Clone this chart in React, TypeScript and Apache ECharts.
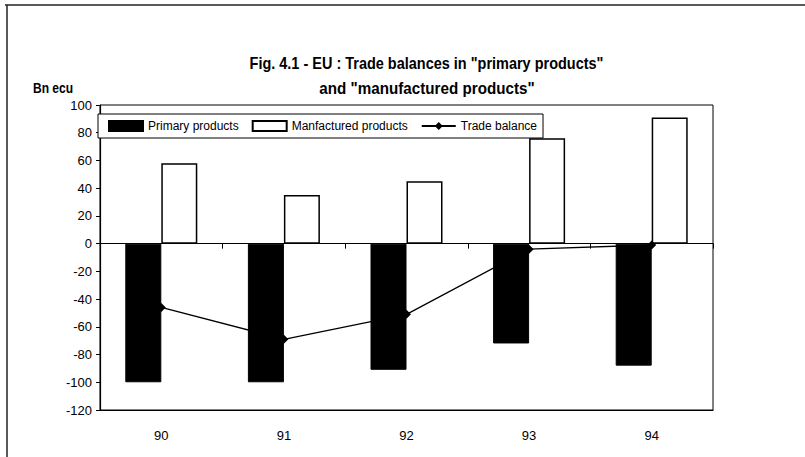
import React, { useEffect, useRef } from "react";
import * as echarts from "echarts";

const years = ["90", "91", "92", "93", "94"];
const primaryProducts = [-100, -100, -91, -72, -88];
const manufacturedProducts = [58, 35, 45, 76, 91];
const tradeBalance = [-46, -69, -51, -4, -1];

const titleLine1 = 'Fig. 4.1 - EU : Trade balances in "primary products"';
const titleLine2 = 'and "manufactured products"';
const unitLabel = "Bn ecu";

const FONT = "'Liberation Sans', Arial, sans-serif";

export default function App() {
  const ref = useRef<HTMLDivElement>(null);
  useEffect(() => {
    document.body.style.margin = "0";
    const chart = echarts.init(ref.current!, null, { renderer: "svg" });
    const titleStyle = (text: string, size: number) => ({
      text,
      fontFamily: FONT,
      fontSize: size,
      fontWeight: "bold",
      fill: "#000",
      align: "center",
      verticalAlign: "middle",
      textAlign: "center",
      textVerticalAlign: "middle",
    });
    chart.setOption({
      animation: false,
      backgroundColor: "#fff",
      textStyle: { fontFamily: FONT, color: "#000" },
      graphic: [
        { type: "line", shape: { x1: 5, y1: 5, x2: 805, y2: 5 }, style: { stroke: "#222", lineWidth: 1.5 } },
        { type: "line", shape: { x1: 7, y1: 5, x2: 7, y2: 457 }, style: { stroke: "#222", lineWidth: 1.5 } },
        { type: "text", x: 426.5, y: 63, scaleX: 0.905, style: titleStyle(titleLine1, 16) },
        { type: "text", x: 427, y: 88, scaleX: 0.95, style: titleStyle(titleLine2, 16) },
        { type: "text", x: 53, y: 88, scaleX: 0.86, style: titleStyle(unitLabel, 14) },
      ],
      legend: {
        left: 98,
        top: 114,
        orient: "horizontal",
        backgroundColor: "#fff",
        borderColor: "#000",
        borderWidth: 1,
        borderRadius: 0,
        padding: [6, 6, 6, 10],
        itemWidth: 34,
        itemHeight: 10,
        itemGap: 13,
        textStyle: { fontFamily: FONT, fontSize: 12, color: "#000" },
        data: [
          { name: "Primary products", icon: "rect" },
          { name: "Manfactured products", icon: "rect" },
          { name: "Trade balance" },
        ],
      },
      grid: {
        left: 100,
        top: 105,
        width: 613,
        height: 305,
        show: true,
        borderColor: "#000",
        borderWidth: 1,
        backgroundColor: "transparent",
      },
      xAxis: [
        {
          type: "category",
          data: years,
          position: "bottom",
          axisLine: { onZero: true, lineStyle: { color: "#000", width: 1.2 } },
          axisTick: { show: true, length: 5, lineStyle: { color: "#000" } },
          axisLabel: { show: false },
        },
        {
          type: "category",
          data: years,
          position: "bottom",
          axisLine: { onZero: false, show: true, lineStyle: { color: "#000", width: 1.2 } },
          axisTick: { show: false },
          axisLabel: { show: true, margin: 19, fontSize: 13, fontFamily: FONT, color: "#000" },
        },
      ],
      yAxis: {
        type: "value",
        min: -120,
        max: 100,
        interval: 20,
        axisLine: { show: true, lineStyle: { color: "#000", width: 1.2 } },
        axisTick: { show: true, length: 4, lineStyle: { color: "#000" } },
        axisLabel: { margin: 8, fontSize: 13, fontFamily: FONT, color: "#000" },
        splitLine: { show: false },
      },
      series: [
        {
          name: "Primary products",
          type: "bar",
          data: primaryProducts,
          barWidth: 36,
          barGap: "0%",
          itemStyle: { color: "#000", borderColor: "#000", borderWidth: 1 },
        },
        {
          name: "Manfactured products",
          type: "bar",
          data: manufacturedProducts,
          barWidth: 36,
          barGap: "0%",
          itemStyle: { color: "#fff", borderColor: "#000", borderWidth: 1.5 },
        },
        {
          name: "Trade balance",
          type: "line",
          data: tradeBalance,
          symbol: "diamond",
          symbolSize: 9,
          z: 5,
          lineStyle: { color: "#000", width: 1.3 },
          itemStyle: { color: "#000" },
        },
      ],
    });
    return () => chart.dispose();
  }, []);
  return <div ref={ref} style={{ width: 805, height: 457 }} />;
}
